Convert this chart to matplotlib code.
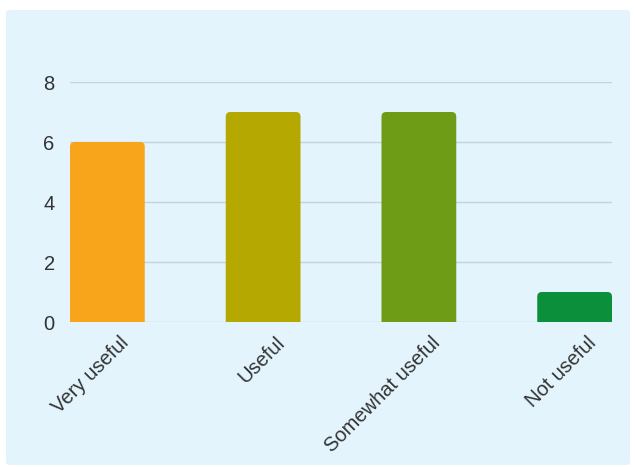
import matplotlib
matplotlib.use('Agg')
import matplotlib.pyplot as plt
from matplotlib.patches import FancyBboxPatch
from matplotlib.transforms import ScaledTranslation

categories = ['Very useful', 'Useful', 'Somewhat useful', 'Not useful']
counts = [6, 7, 7, 1]
colors = ['#f8a51c', '#b5a800', '#6e9c17', '#0b8f3a']
yticks = [0, 2, 4, 6, 8]

bg = '#e3f4fd'
text_color = '#333333'
grid_color = '#c5d3db'

plt.rcParams['font.family'] = ['Liberation Sans', 'DejaVu Sans']

fig = plt.figure(figsize=(6.35, 4.67), dpi=100)
fig.patch.set_facecolor('white')
# light blue rounded panel behind the chart
panel = FancyBboxPatch((6 / 635, 2 / 467), 624 / 635, 455 / 467,
                       boxstyle='round,pad=0,rounding_size=0.006',
                       transform=fig.transFigure, facecolor=bg,
                       edgecolor='none', zorder=-10)
fig.patches.append(panel)

ax = fig.add_axes([70 / 635, 1 - 322 / 467, 542 / 635, 240 / 467])
ax.set_facecolor('none')
ax.set_zorder(1)

width = 0.48
x = list(range(len(categories)))
bars = ax.bar(x, counts, width=width, color=colors, alpha=0)
# rounded-top bars; bottoms pushed below 0 so the axes clip them square
for b, c in zip(bars, colors):
    left = b.get_x()
    h = b.get_height()
    p = FancyBboxPatch((left, -0.5), width, h + 0.5,
                       boxstyle='round,pad=0,rounding_size=0.03',
                       mutation_aspect=5.2, facecolor=c,
                       edgecolor='none', zorder=3)
    ax.add_patch(p)

ax.set_xlim(-0.24, 3.24)
ax.set_ylim(0, 8)
ax.set_yticks(yticks)
ax.set_xticks(x)
ax.set_xticklabels(categories, rotation=45, ha='right',
                   rotation_mode='anchor')
ax.tick_params(axis='both', length=0, labelsize=14.5, colors=text_color)
ax.tick_params(axis='y', pad=11)
ax.tick_params(axis='x', pad=8)
# labels sit a bit right of the bar centres
shift = ScaledTranslation(12 / 100, 0, fig.dpi_scale_trans)
for lbl in ax.get_xticklabels():
    lbl.set_transform(lbl.get_transform() + shift)
ax.grid(axis='y', color=grid_color, linewidth=1)
ax.set_axisbelow(True)
for s in ax.spines.values():
    s.set_visible(False)

fig.savefig('out.png', dpi=100, facecolor=fig.get_facecolor())
